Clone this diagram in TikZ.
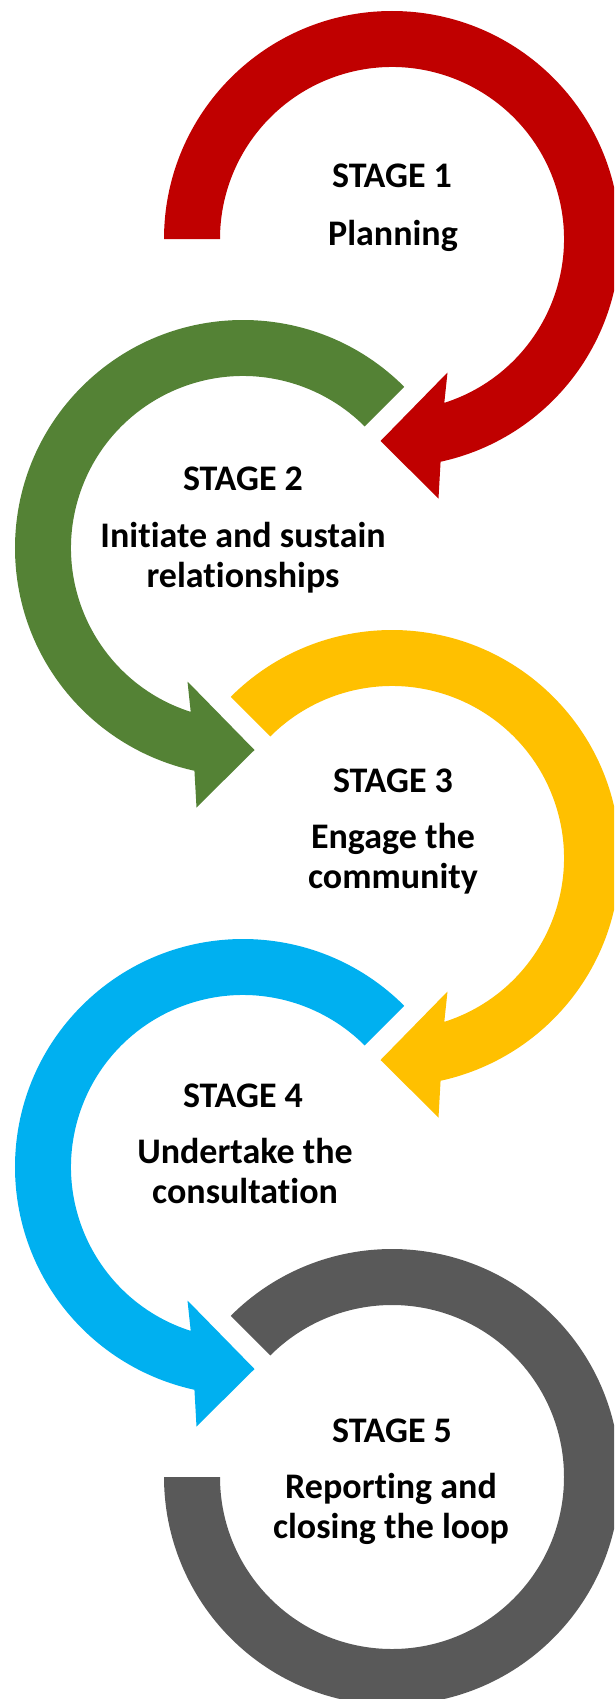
\documentclass[tikz,border=0pt]{standalone}
\usepackage{fontspec}
\setmainfont{Carlito}[Ligatures=NoCommon]
\definecolor{cred}{HTML}{C00000}
\definecolor{cgreen}{HTML}{548235}
\definecolor{cyellow}{HTML}{FFC000}
\definecolor{cblue}{HTML}{00B0F0}
\definecolor{cgray}{HTML}{595959}
\newcommand\stagelines[1]{\vtop{\baselineskip=40.5pt\lineskiplimit=-100pt\halign{\hfil##\hfil\cr#1\crcr}}}
\begin{document}
\begin{tikzpicture}[x=1pt,y=1pt,
  title/.style={anchor=base,inner sep=0pt,font=\fontsize{36}{40}\selectfont\bfseries},
  body/.style={anchor=base,inner sep=0pt,font=\fontsize{36}{40.5}\selectfont\bfseries}]
\useasboundingbox (0,0) rectangle (614,-1699);
\clip (0,0) rectangle (614,-1699);
% Stage 1 (red), clockwise arrow
\begin{scope}[shift={(392,-239)}]
\fill[cred] (180:228) arc[start angle=180,end angle=-77.7,radius=228pt]
  -- (46.5,-259.5) -- (-11.5,-202) -- (55.5,-133.5)
  -- (-72.3:172) arc[start angle=-72.3,end angle=180,radius=172pt] -- cycle;
\end{scope}
% Stage 2 (green), counter-clockwise arrow
\begin{scope}[shift={(243,-548)}]
\fill[cgreen] (45:228) arc[start angle=45,end angle=257.7,radius=228pt]
  -- (-46.5,-259.5) -- (11.5,-202) -- (-55.5,-133.5)
  -- (252.3:172) arc[start angle=252.3,end angle=45,radius=172pt] -- cycle;
\end{scope}
% Stage 3 (yellow)
\begin{scope}[shift={(392,-858)}]
\fill[cyellow] (135:228) arc[start angle=135,end angle=-77.7,radius=228pt]
  -- (46.5,-259.5) -- (-11.5,-202) -- (55.5,-133.5)
  -- (-72.3:172) arc[start angle=-72.3,end angle=135,radius=172pt] -- cycle;
\end{scope}
% Stage 4 (blue)
\begin{scope}[shift={(243,-1167)}]
\fill[cblue] (45:228) arc[start angle=45,end angle=257.7,radius=228pt]
  -- (-46.5,-259.5) -- (11.5,-202) -- (-55.5,-133.5)
  -- (252.3:172) arc[start angle=252.3,end angle=45,radius=172pt] -- cycle;
\end{scope}
% Stage 5 (gray), no head
\begin{scope}[shift={(392,-1477)}]
\fill[cgray] (135:228) arc[start angle=135,end angle=-180,radius=228pt]
  -- (180:172) arc[start angle=-180,end angle=135,radius=172pt] -- cycle;
\end{scope}
% Texts
\node[title] (t1) at (392,-188) {STAGE 1};
\node[body]  (b1) at (393,-245) {Planning};
\node[title] (t2) at (243,-490) {STAGE 2};
\node[body]  (b2) at (243,-547) {\stagelines{Initiate and sustain\cr relationships}};
\node[title] (t3) at (393,-792) {STAGE 3};
\node[body]  (b3) at (393,-848) {\stagelines{Engage the\cr community}};
\node[title] (t4) at (243,-1107) {STAGE 4};
\node[body]  (b4) at (245,-1163) {\stagelines{Undertake the\cr consultation}};
\node[title] (t5) at (392,-1442) {STAGE 5};
\node[body]  (b5) at (391,-1498) {\stagelines{Reporting and\cr closing the loop}};
\end{tikzpicture}
\end{document}
